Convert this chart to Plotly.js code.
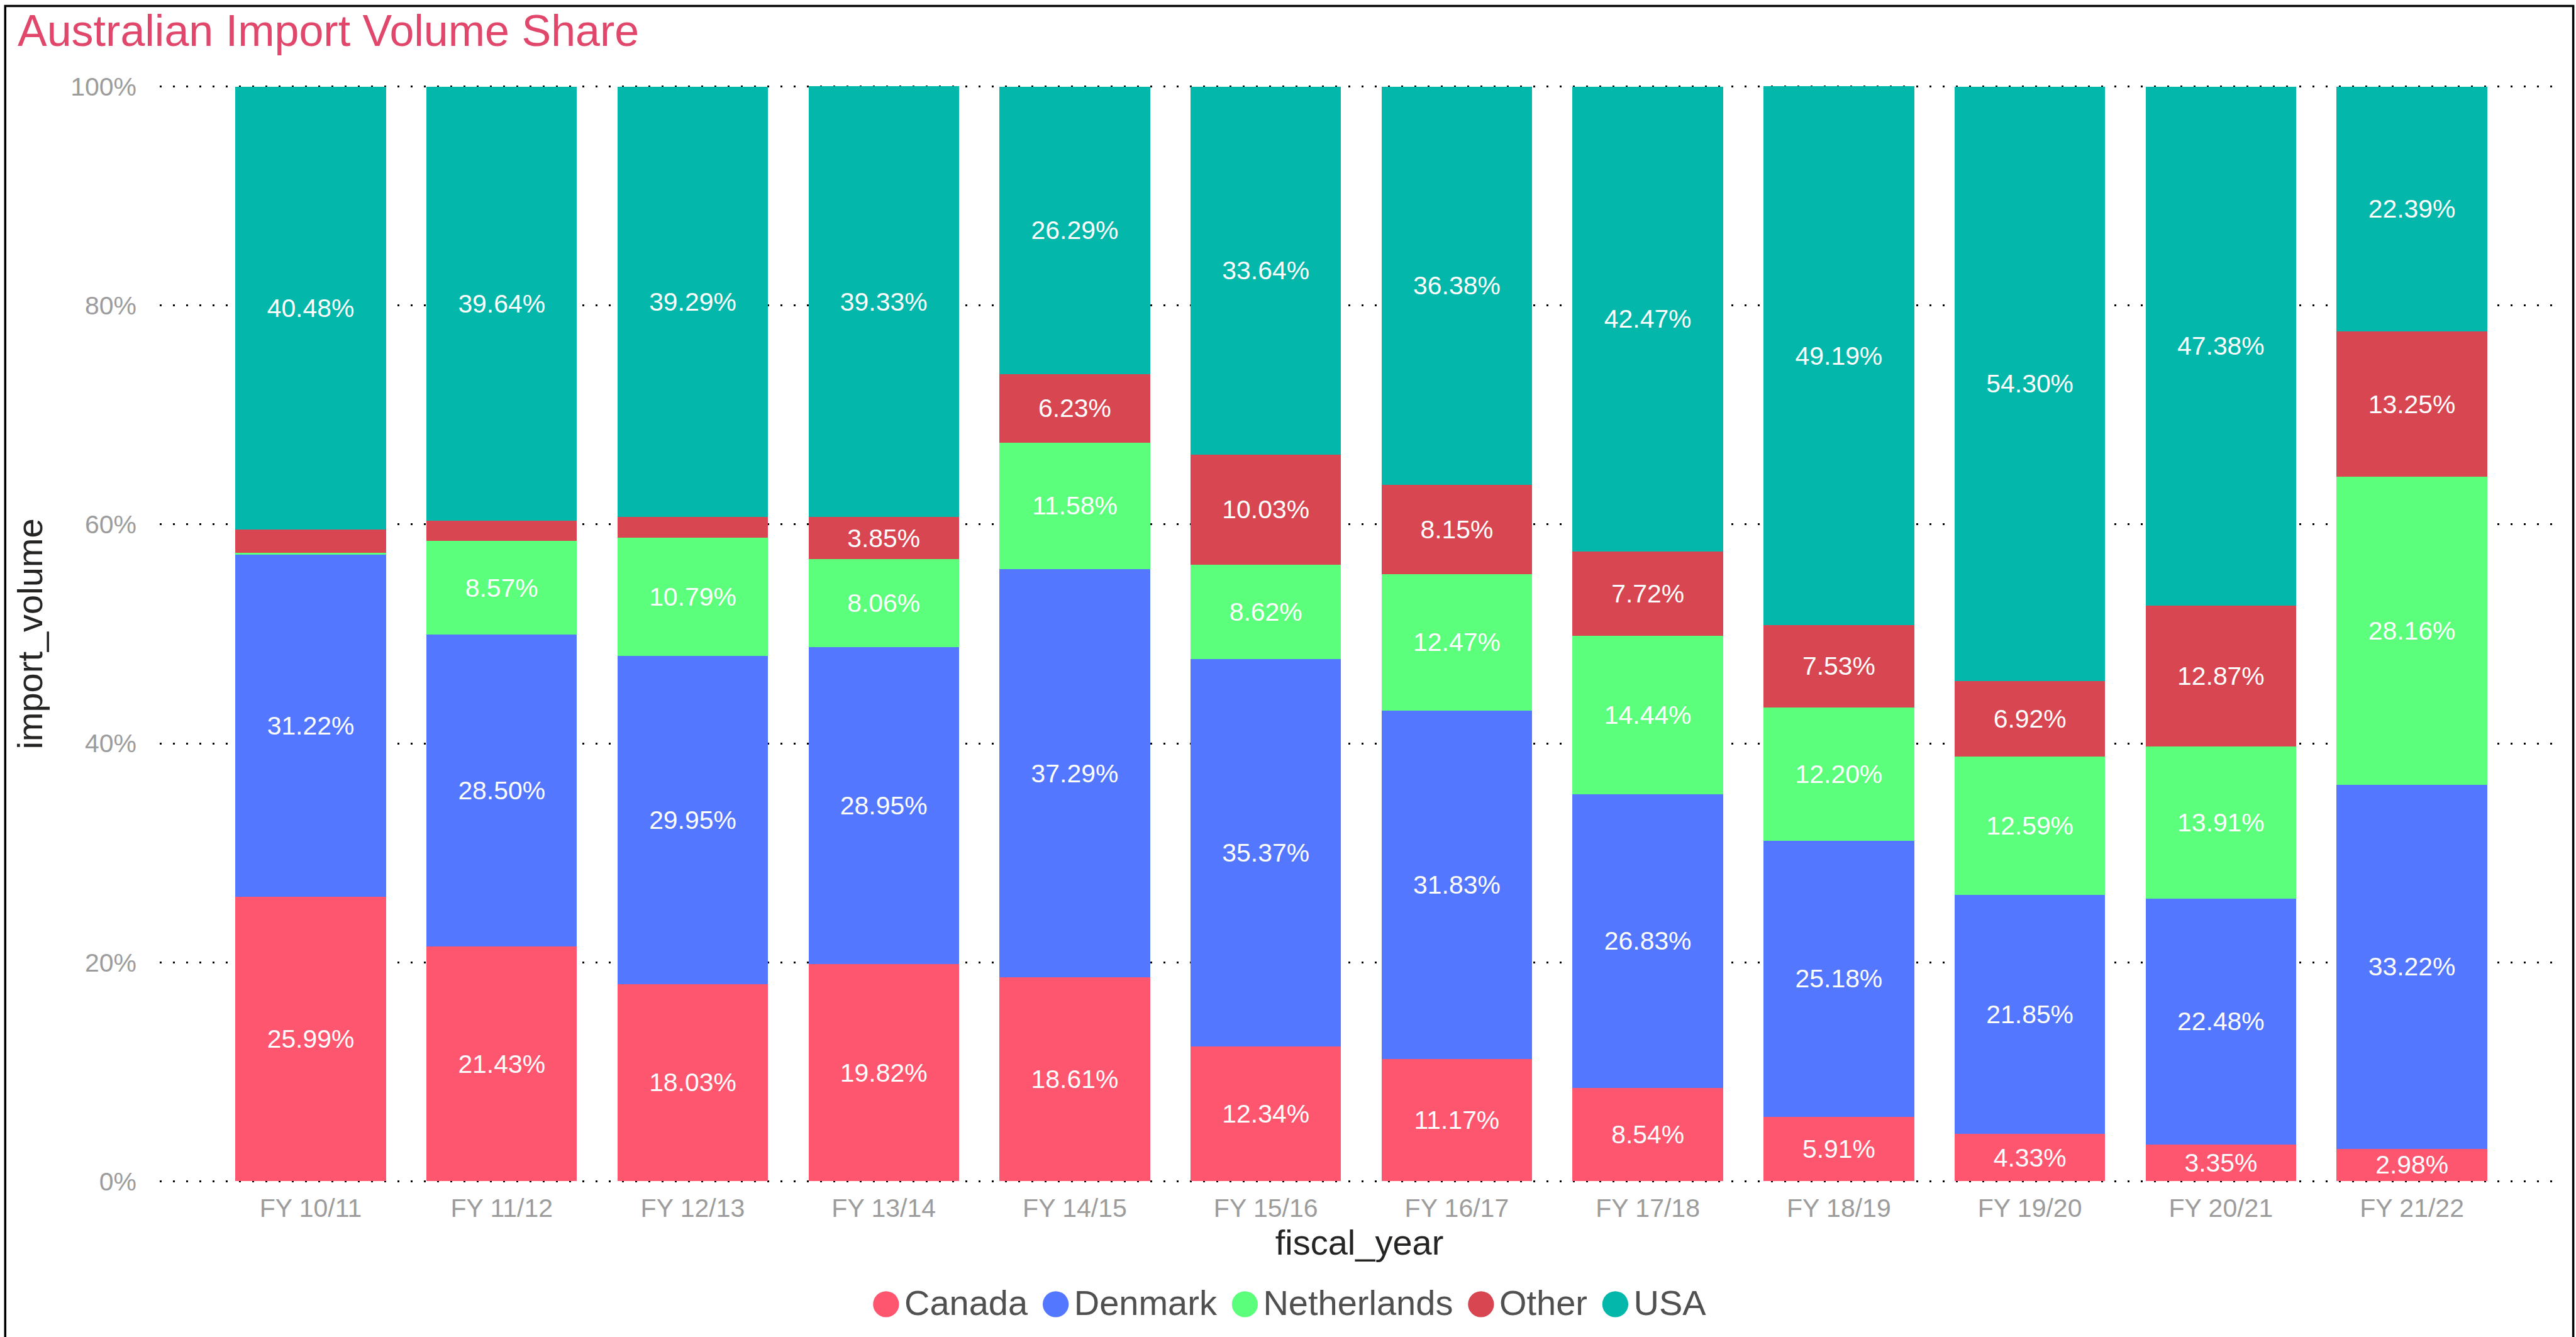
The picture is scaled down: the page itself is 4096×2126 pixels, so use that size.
<!DOCTYPE html>
<html>
<head>
<meta charset="utf-8">
<script src="https://cdn.plot.ly/plotly-3.0.1.min.js"></script>
<style>
html,body{margin:0;padding:0;background:#ffffff;}
#chart{width:4096px;height:2126px;}
</style>
</head>
<body>
<div id="chart"></div>
<script>
// ---- data ----
const fiscalYears = ['FY 10/11','FY 11/12','FY 12/13','FY 13/14','FY 14/15','FY 15/16','FY 16/17','FY 17/18','FY 18/19','FY 19/20','FY 20/21','FY 21/22'];
const canada      = [25.99, 21.43, 18.03, 19.82, 18.61, 12.34, 11.17,  8.54,  5.91,  4.33,  3.35,  2.98];
const denmark     = [31.22, 28.50, 29.95, 28.95, 37.29, 35.37, 31.83, 26.83, 25.18, 21.85, 22.48, 33.22];
const netherlands = [ 0.20,  8.57, 10.79,  8.06, 11.58,  8.62, 12.47, 14.44, 12.20, 12.59, 13.91, 28.16];
const other       = [ 2.11,  1.86,  1.94,  3.85,  6.23, 10.03,  8.15,  7.72,  7.53,  6.92, 12.87, 13.25];
const usa         = [40.48, 39.64, 39.29, 39.33, 26.29, 33.64, 36.38, 42.47, 49.19, 54.30, 47.38, 22.39];
const seriesNames = ['Canada','Denmark','Netherlands','Other','USA'];
const seriesValues = [canada, denmark, netherlands, other, usa];
const seriesColors = ['#FF5670','#5477FF','#5CFF7C','#D84652','#03B8AA'];
const yTickVals = [0, 20, 40, 60, 80, 100];
const yTickText = ['0%','20%','40%','60%','80%','100%'];

// ---- geometry ----
const W = 4096, H = 2126;
const yTop = 137.3, yBot = 1878.0;      // pixel rows of 100% and 0%
const ext = 0.15;                        // small range padding so end gridlines are drawn
const unitPx = (yBot - yTop) / 100;
const M = {l:254, r:27, t: yTop - ext * unitPx, b: H - (yBot + ext * unitPx)};
const plotW = W - M.l - M.r, plotH = H - M.t - M.b;
const px2x = p => (p - M.l) / plotW;
const px2y = p => (H - M.b - p) / plotH;
const FONT = 'Liberation Sans, Arial, sans-serif';

const traces = seriesNames.map((name, i) => ({
  type: 'bar',
  name: name,
  x: fiscalYears,
  y: seriesValues[i],
  marker: {color: seriesColors[i], line: {width: 0}},
  texttemplate: '%{y:.2f}%',
  textposition: 'inside',
  insidetextanchor: 'middle',
  textangle: 0,
  textfont: {family: FONT, size: 41, color: '#ffffff'},
  hovertemplate: name + ': %{y:.2f}%<extra></extra>'
}));

const legendText = seriesNames.map((n, i) =>
  '<span style="color:' + seriesColors[i] + ';font-size:96px;baseline-shift:-10px">\u25CF</span>' + n
).join(' ');

const layout = {
  width: W, height: H,
  margin: M,
  paper_bgcolor: '#ffffff',
  plot_bgcolor: '#ffffff',
  font: {family: FONT},
  barmode: 'stack',
  bargap: 0.212,
  showlegend: false,
  uniformtext: {mode: 'hide', minsize: 36},
  title: {
    text: 'Australian Import Volume Share',
    font: {family: FONT, size: 70, color: '#E0476B'},
    xref: 'container', x: 28 / W, xanchor: 'left',
    yref: 'container', y: 1 - 48 / H, yanchor: 'middle'
  },
  xaxis: {
    type: 'category',
    range: [-0.79, 11.77],
    showgrid: false, zeroline: false, showline: false,
    ticks: '',
    tickfont: {family: FONT, size: 41, color: '#9c9c9c'},
    ticklabelstandoff: 12,
    title: {text: 'fiscal_year', font: {family: FONT, size: 56, color: '#252423'}, standoff: 12}
  },
  yaxis: {
    range: [-ext, 100 + ext],
    tickmode: 'array', tickvals: yTickVals, ticktext: yTickText,
    showgrid: true, gridcolor: '#000000', gridwidth: 3, griddash: '3px,18px',
    zeroline: false, showline: false, ticks: '',
    tickfont: {family: FONT, size: 41, color: '#9c9c9c'},
    ticklabelstandoff: 36,
    title: {text: 'import_volume', font: {family: FONT, size: 56, color: '#252423'}, standoff: 26}
  },
  annotations: [{
    xref: 'paper', yref: 'paper',
    x: px2x(2046), y: px2y(2067),
    xanchor: 'center', yanchor: 'middle',
    showarrow: false,
    text: legendText,
    font: {family: FONT, size: 56, color: '#505050'}
  }],
  shapes: [{
    type: 'rect', xref: 'paper', yref: 'paper', layer: 'above',
    x0: px2x(8.3), x1: px2x(4091.6), y0: px2y(2200), y1: px2y(9.2),
    line: {color: '#000000', width: 3.5}, fillcolor: 'rgba(0,0,0,0)'
  }]
};

Plotly.newPlot('chart', traces, layout, {displayModeBar: false, staticPlot: true});
</script>
</body>
</html>
